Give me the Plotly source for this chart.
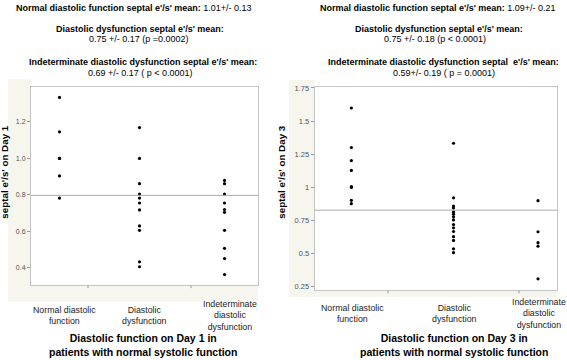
import plotly.graph_objects as go
import numpy as np

# ---------------- data ----------------
categories = ["Normal diastolic<br>function", "Diastolic<br>dysfunction",
              "Indeterminate<br>diastolic<br>dysfunction"]

day1_normal = [1.335, 1.146, 1.0, 1.0, 0.904, 0.782]
day1_dysfunction = [1.169, 1.0, 0.861, 0.804, 0.782, 0.755, 0.717, 0.629, 0.605, 0.432, 0.405]
day1_indeterminate = [0.879, 0.861, 0.804, 0.755, 0.719, 0.704, 0.605, 0.506, 0.450, 0.362]

day3_normal = [1.599, 1.301, 1.202, 1.128, 1.005, 1.0, 0.902, 0.877]
day3_dysfunction = [1.333, 0.921, 0.859, 0.845, 0.815, 0.798, 0.778, 0.754, 0.719,
                    0.695, 0.667, 0.628, 0.600, 0.536, 0.507]
day3_indeterminate = [0.900, 0.665, 0.583, 0.556, 0.310]

day1_mean_line = 0.797
day3_mean_line = 0.828

day1_ticks = [0.4, 0.6, 0.8, 1.0, 1.2, 1.4]
day1_ticklabels = ["0.4", "0.6", "0.8", "1.0", "1.2", "1.4"]
day3_ticks = [0.25, 0.5, 0.75, 1.0, 1.25, 1.5, 1.75]
day3_ticklabels = ["0.25", "0.5", "0.75", "1", "1.25", "1.5", "1.75"]

left_titles = [
    "<b>Normal diastolic function septal e'/s' mean:</b> 1.01+/- 0.13",
    "<b>Diastolic dysfunction septal e'/s' mean:</b>",
    "0.75 +/- 0.17 (p =0.0002)",
    "<b>Indeterminate diastolic dysfunction septal e'/s' mean:</b>",
    "0.69 +/- 0.17 ( p < 0.0001)",
]
right_titles = [
    "<b>Normal diastolic function septal e'/s' mean:</b> 1.09+/- 0.21",
    "<b>Diastolic dysfunction septal e'/s' mean:</b>",
    "0.75 +/- 0.18 (p < 0.0001)",
    "<b>Indeterminate diastolic dysfunction septal  e'/s' mean:</b>",
    "0.59+/- 0.19 ( p = 0.0001)",
]
left_xtitle = "<b>Diastolic function on Day 1 in<br>patients with normal systolic function</b>"
right_xtitle = "<b>Diastolic function on Day 3 in<br>patients with normal systolic function</b>"
left_ytitle = "<b>septal e'/s' on Day 1</b>"
right_ytitle = "<b>septal e'/s' on Day 3</b>"

# ---------------- layout constants ----------------
W, H = 567, 360
def px(x): return x / W
def py(y): return 1 - y / H

FONT = "Liberation Sans, Arial, Helvetica, sans-serif"
BEIGE = "#f6f6ee"
FRAME = "#c4c4c4"

left_widths = [57, 103, 67]      # JMP proportional category widths (px)
right_widths = [73.3, 131, 38]

def centers(widths):
    edges = np.concatenate([[0], np.cumsum(widths)])
    return list((edges[:-1] + edges[1:]) / 2), list(edges[1:-1]), float(edges[-1])

lc, ledges, ltot = centers(left_widths)
rc, redges, rtot = centers(right_widths)

fig = go.Figure()

marker = dict(color="black", size=3.2)
for vals, c in zip([day1_normal, day1_dysfunction, day1_indeterminate], lc):
    fig.add_trace(go.Scatter(x=[c] * len(vals), y=vals, mode="markers", marker=marker,
                             xaxis="x", yaxis="y", showlegend=False, hoverinfo="y"))
for vals, c in zip([day3_normal, day3_dysfunction, day3_indeterminate], rc):
    fig.add_trace(go.Scatter(x=[c] * len(vals), y=vals, mode="markers", marker=marker,
                             xaxis="x2", yaxis="y2", showlegend=False, hoverinfo="y"))

ax_common = dict(showline=True, mirror=True, linecolor=FRAME, linewidth=1,
                 showgrid=False, zeroline=False)

fig.update_layout(
    width=W, height=H, margin=dict(l=0, r=0, t=0, b=0),
    paper_bgcolor="white", plot_bgcolor="white",
    font=dict(family=FONT, color="black"),
    xaxis=dict(domain=[px(31), px(258)], range=[0, ltot], showticklabels=False,
               ticks="", **ax_common),
    yaxis=dict(domain=[py(285.3), py(84)], range=[0.303, 1.393],
               tickvals=day1_ticks, ticktext=day1_ticklabels, ticks="outside",
               ticklen=3, tickcolor="#999", tickfont=dict(size=7, color="#555"),
               **ax_common),
    xaxis2=dict(domain=[px(314.7), px(557)], range=[0, rtot], showticklabels=False,
                ticks="", anchor="y2", **ax_common),
    yaxis2=dict(domain=[py(290.5), py(84.5)], range=[0.222, 1.755], anchor="x2",
                tickvals=day3_ticks, ticktext=day3_ticklabels, ticks="outside",
                ticklen=3, tickcolor="#999", tickfont=dict(size=7.5, color="#555"),
                **ax_common),
)

shapes = []
# beige JMP frame strips
shapes += [
    dict(type="rect", xref="paper", yref="paper", x0=px(8), x1=px(31), y0=py(302), y1=py(76),
         fillcolor=BEIGE, line_width=0, layer="below"),
    dict(type="rect", xref="paper", yref="paper", x0=px(31), x1=px(258), y0=py(302), y1=py(285.3),
         fillcolor=BEIGE, line_width=0, layer="below"),
    dict(type="rect", xref="paper", yref="paper", x0=px(289), x1=px(314.7), y0=py(297), y1=py(77),
         fillcolor=BEIGE, line_width=0, layer="below"),
    dict(type="rect", xref="paper", yref="paper", x0=px(314.7), x1=px(557), y0=py(297), y1=py(290.5),
         fillcolor=BEIGE, line_width=0, layer="below"),
]
# mean reference lines
shapes.append(dict(type="line", xref="x domain", yref="y", x0=0, x1=1,
                   y0=day1_mean_line, y1=day1_mean_line, line=dict(color="#aaaaaa", width=1)))
shapes.append(dict(type="line", xref="x2 domain", yref="y2", x0=0, x1=1,
                   y0=day3_mean_line, y1=day3_mean_line, line=dict(color="#aaaaaa", width=1)))
# category boundary ticks
for e in ledges:
    shapes.append(dict(type="line", xref="x", yref="y domain", x0=e, x1=e, y0=0, y1=-0.014,
                       line=dict(color="#999", width=1)))
for e in redges:
    shapes.append(dict(type="line", xref="x2", yref="y2 domain", x0=e, x1=e, y0=0, y1=-0.014,
                       line=dict(color="#999", width=1)))
fig.update_layout(shapes=shapes)

ann = []
# titles at top
title_y = [4.5, 25, 35, 59, 69.5]
left_title_x = [134, 140, 139, 143, 140]
right_title_x = [437.5, 439, 435, 443, 444]
for t, x, y in zip(left_titles, left_title_x, title_y):
    ann.append(dict(text=t, x=px(x), y=py(y), xref="paper", yref="paper",
                    showarrow=False, xanchor="center", yanchor="middle",
                    font=dict(size=9.0, color="black")))
for t, x, y in zip(right_titles, right_title_x, title_y):
    ann.append(dict(text=t, x=px(x), y=py(y), xref="paper", yref="paper",
                    showarrow=False, xanchor="center", yanchor="middle",
                    font=dict(size=9.0, color="black")))
# category labels
for cat, c in zip(categories, lc):
    ann.append(dict(text=cat, x=c, y=py(315.5), xref="x", yref="paper", xshift=5,
                    showarrow=False, xanchor="center", yanchor="middle",
                    font=dict(size=8.8, color="#222")))
for cat, c in zip(categories, rc):
    ann.append(dict(text=cat, x=c, y=py(314), xref="x2", yref="paper", xshift=1,
                    showarrow=False, xanchor="center", yanchor="middle",
                    font=dict(size=8.8, color="#222")))
# x titles
ann.append(dict(text=left_xtitle, x=px(142.5), y=py(346), xref="paper", yref="paper",
                showarrow=False, xanchor="center", yanchor="middle", font=dict(size=10.5)))
ann.append(dict(text=right_xtitle, x=px(454), y=py(346), xref="paper", yref="paper",
                showarrow=False, xanchor="center", yanchor="middle", font=dict(size=10.5)))
# y titles
ann.append(dict(text=left_ytitle, x=px(5), y=py(171), xref="paper", yref="paper",
                showarrow=False, xanchor="center", yanchor="middle", textangle=-90,
                font=dict(size=9.8)))
ann.append(dict(text=right_ytitle, x=px(282), y=py(171), xref="paper", yref="paper",
                showarrow=False, xanchor="center", yanchor="middle", textangle=-90,
                font=dict(size=9.8)))
fig.update_layout(annotations=ann)

fig.write_html("out.html", config={"displayModeBar": False},
               post_script="document.body.style.margin='0';document.body.style.overflow='hidden';")
